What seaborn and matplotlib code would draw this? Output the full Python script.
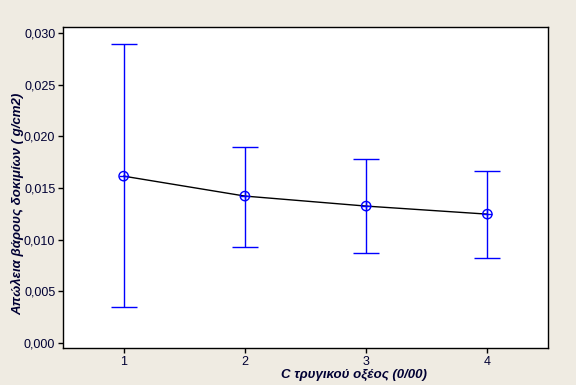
import matplotlib
matplotlib.use("Agg")
import matplotlib.pyplot as plt
import seaborn as sns
import pandas as pd
import numpy as np
from matplotlib.ticker import FuncFormatter

concentration = [1, 2, 3, 4]
mean_loss = [0.01616, 0.01423, 0.01326, 0.01248]
upper_ci = [0.02894, 0.01897, 0.01781, 0.01665]
lower_ci = [0.00348, 0.00929, 0.00871, 0.00823]

df = pd.DataFrame({"C": concentration, "mean": mean_loss,
                   "hi": upper_ci, "lo": lower_ci})

sns.set_style("ticks")
plt.rcParams['font.family'] = ['Liberation Sans', 'DejaVu Sans']

bg = '#EFEBE2'
fig = plt.figure(figsize=(5.76, 3.85), dpi=100, facecolor=bg)
ax = fig.add_axes([63/576, 37/385, 485/576, 321/385])
ax.set_facecolor('white')

blue = '#0000FF'
yerr = np.array([df["mean"] - df["lo"], df["hi"] - df["mean"]])
ax.errorbar(df["C"], df["mean"], yerr=yerr, fmt='none', ecolor=blue,
            elinewidth=1.0, capsize=9.7, capthick=1.0, zorder=2)
sns.lineplot(data=df, x="C", y="mean", color='black', linewidth=1.0,
             ax=ax, zorder=3)
ax.scatter(df["C"], df["mean"], s=45, facecolors='none', edgecolors=blue,
           linewidths=1.0, zorder=4)
ax.scatter(df["C"], df["mean"], s=45, marker='+', color=blue,
           linewidths=1.0, zorder=4)

ax.set_xlim(0.5, 4.5)
ax.set_ylim(-0.00048, 0.0306)
ax.set_xticks(concentration)
ax.set_xticklabels([str(c) for c in concentration])
ax.set_yticks([0.0, 0.005, 0.010, 0.015, 0.020, 0.025, 0.030])
ax.yaxis.set_major_formatter(FuncFormatter(lambda v, p: f"{v:.3f}".replace('.', ',')))

ax.tick_params(axis='both', labelsize=9, colors='black', labelcolor='#000033',
               length=3.5, width=1, direction='out', pad=2)
for s in ax.spines.values():
    s.set_visible(True)
    s.set_linewidth(1.0)
    s.set_color('black')

ax.set_xlabel("C τρυγικού οξέος (0/00)", fontsize=9.5, fontstyle='italic',
              fontweight='bold', color='#000033', ha='center', va='center')
ax.xaxis.set_label_coords(0.6, -0.084)
ax.set_ylabel("Απώλεια βάρους δοκιμίων ( g/cm2)", fontsize=9.5, fontstyle='italic',
              fontweight='bold', color='#000033', ha='center', va='center')
ax.yaxis.set_label_coords(-0.0928, 0.4486)

fig.savefig("out.png", dpi=100, facecolor=bg)
